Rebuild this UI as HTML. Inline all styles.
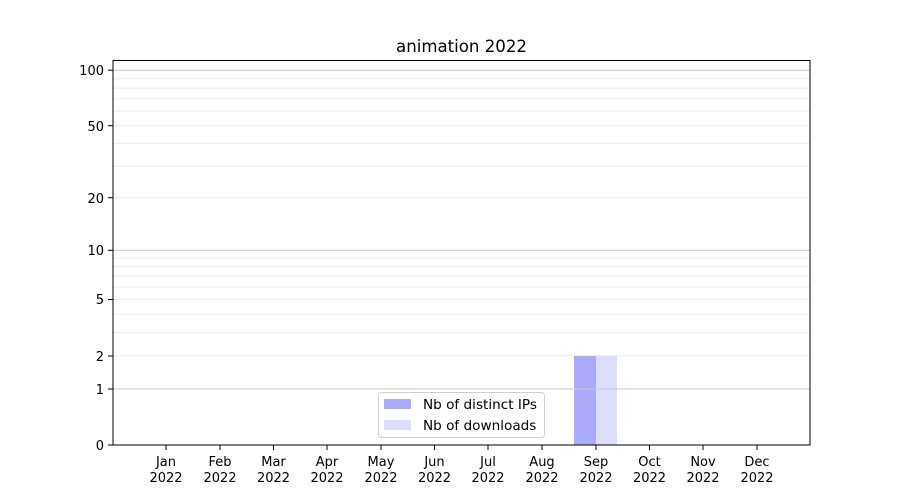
<!DOCTYPE html>
<html><head><meta charset="utf-8"><style>html,body{margin:0;padding:0;background:#fff}svg{display:block}text{font-family:"DejaVu Sans","Liberation Sans",sans-serif;font-size:13px;fill:#000}</style></head>
<body>
<svg width="900" height="500" viewBox="0 0 900 500" xmlns="http://www.w3.org/2000/svg">
<g stroke="#ebebeb" stroke-width="1">
<line x1="113" x2="810" y1="355.8" y2="355.8"/><line x1="113" x2="810" y1="332.4" y2="332.4"/><line x1="113" x2="810" y1="314.3" y2="314.3"/><line x1="113" x2="810" y1="299.5" y2="299.5"/><line x1="113" x2="810" y1="287" y2="287"/><line x1="113" x2="810" y1="276.1" y2="276.1"/><line x1="113" x2="810" y1="266.6" y2="266.6"/><line x1="113" x2="810" y1="258" y2="258"/>
<line x1="113" x2="810" y1="197.7" y2="197.7"/><line x1="113" x2="810" y1="166.1" y2="166.1"/><line x1="113" x2="810" y1="143.4" y2="143.4"/><line x1="113" x2="810" y1="125.7" y2="125.7"/><line x1="113" x2="810" y1="111.1" y2="111.1"/><line x1="113" x2="810" y1="98.8" y2="98.8"/><line x1="113" x2="810" y1="88.1" y2="88.1"/><line x1="113" x2="810" y1="78.7" y2="78.7"/>
</g>
<rect x="574" y="356" width="22" height="89" fill="#aaaaff"/>
<rect x="596" y="356" width="21" height="89" fill="#ddddff"/>
<g stroke="#c8c8c8" stroke-width="1">
<line x1="113" x2="810" y1="389" y2="389"/><line x1="113" x2="810" y1="250.3" y2="250.3"/><line x1="113" x2="810" y1="70.2" y2="70.2"/>
</g>
<rect x="113" y="60.5" width="697" height="384.5" fill="none" stroke="#000" stroke-width="1"/>
<g stroke="#000">
<line x1="108" x2="113" y1="445" y2="445"/><line x1="108" x2="113" y1="389" y2="389"/><line x1="108" x2="113" y1="356" y2="356"/><line x1="108" x2="113" y1="299.5" y2="299.5"/><line x1="108" x2="113" y1="250.3" y2="250.3"/><line x1="108" x2="113" y1="197.7" y2="197.7"/><line x1="108" x2="113" y1="125.7" y2="125.7"/><line x1="108" x2="113" y1="70.2" y2="70.2"/>
</g>
<g text-anchor="end">
<text x="104" y="450">0</text><text x="104" y="394">1</text><text x="104" y="361">2</text><text x="104" y="304">5</text><text x="104" y="255">10</text><text x="104" y="203">20</text><text x="104" y="131">50</text><text x="104" y="75">100</text>
</g>
<g stroke="#000">
<line x1="166" x2="166" y1="445" y2="450"/><line x1="220" x2="220" y1="445" y2="450"/><line x1="273.5" x2="273.5" y1="445" y2="450"/><line x1="327" x2="327" y1="445" y2="450"/><line x1="381" x2="381" y1="445" y2="450"/><line x1="434.5" x2="434.5" y1="445" y2="450"/><line x1="488" x2="488" y1="445" y2="450"/><line x1="542" x2="542" y1="445" y2="450"/><line x1="596" x2="596" y1="445" y2="450"/><line x1="649.5" x2="649.5" y1="445" y2="450"/><line x1="703" x2="703" y1="445" y2="450"/><line x1="757" x2="757" y1="445" y2="450"/>
</g>
<g text-anchor="middle">
<text x="166" y="466">Jan</text><text x="166" y="482">2022</text>
<text x="220" y="466">Feb</text><text x="220" y="482">2022</text>
<text x="273.5" y="466">Mar</text><text x="273.5" y="482">2022</text>
<text x="327" y="466">Apr</text><text x="327" y="482">2022</text>
<text x="381" y="466">May</text><text x="381" y="482">2022</text>
<text x="434.5" y="466">Jun</text><text x="434.5" y="482">2022</text>
<text x="488" y="466">Jul</text><text x="488" y="482">2022</text>
<text x="542" y="466">Aug</text><text x="542" y="482">2022</text>
<text x="596" y="466">Sep</text><text x="596" y="482">2022</text>
<text x="649.5" y="466">Oct</text><text x="649.5" y="482">2022</text>
<text x="703" y="466">Nov</text><text x="703" y="482">2022</text>
<text x="757" y="466">Dec</text><text x="757" y="482">2022</text>
<text x="461.5" y="52" style="font-size:16.6px">animation 2022</text>
</g>
<rect x="378.5" y="392.5" width="166" height="45" rx="3" fill="#fff" fill-opacity="0.8" stroke="#d0d0d0"/>
<rect x="384" y="399" width="27" height="10" fill="#aaaaff"/>
<rect x="384" y="420" width="27" height="10" fill="#ddddff"/>
<text x="423" y="409" style="font-size:13.6px">Nb of distinct IPs</text>
<text x="423" y="430" style="font-size:13.6px">Nb of downloads</text>
</svg>
</body></html>
